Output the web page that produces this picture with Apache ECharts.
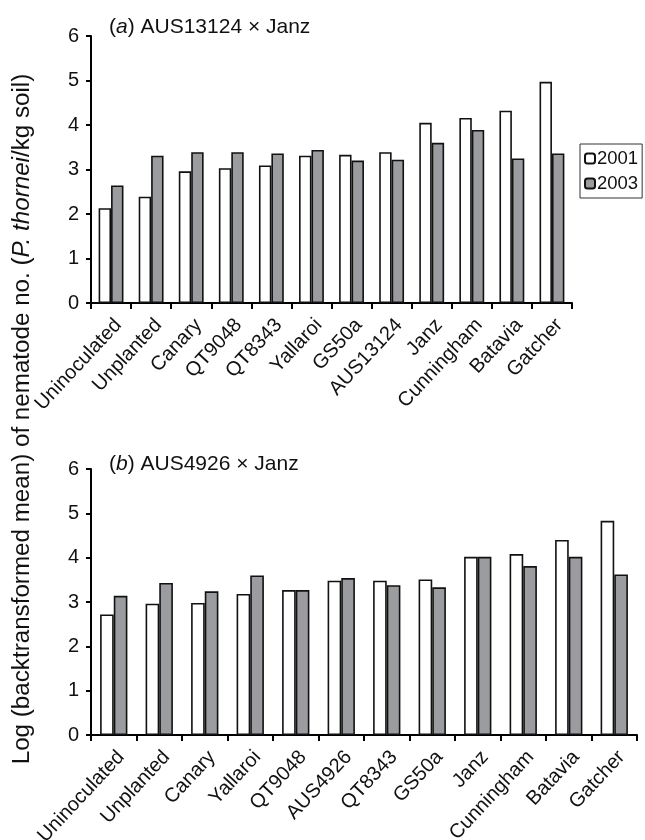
<!DOCTYPE html>
<html>
<head>
<meta charset="utf-8">
<script src="https://cdn.jsdelivr.net/npm/echarts@6/dist/echarts.min.js"></script>
<style>html,body{margin:0;padding:0;background:#fff}#c{width:645px;height:840px}</style>
</head>
<body>
<div id="c"></div>
<script>
const catsA = ['Uninoculated','Unplanted','Canary','QT9048','QT8343','Yallaroi','GS50a','AUS13124','Janz','Cunningham','Batavia','Gatcher'];
const a2001 = [2.13,2.39,2.96,3.03,3.09,3.31,3.33,3.39,4.05,4.16,4.32,4.97];
const a2003 = [2.64,3.31,3.39,3.39,3.36,3.44,3.20,3.22,3.60,3.89,3.25,3.36];
const catsB = ['Uninoculated','Unplanted','Canary','Yallaroi','QT9048','AUS4926','QT8343','GS50a','Janz','Cunningham','Batavia','Gatcher'];
const b2001 = [2.72,2.96,2.98,3.18,3.27,3.48,3.48,3.51,4.02,4.08,4.40,4.83];
const b2003 = [3.14,3.43,3.24,3.60,3.27,3.54,3.38,3.33,4.02,3.81,4.02,3.62];
const yTicks = [0,1,2,3,4,5,6];

const FONT = 'Liberation Sans, Arial, sans-serif';
const GRAY = '#9b9c9f';
const chart = echarts.init(document.getElementById('c'), null, {renderer:'canvas'});

function xAxis(idx, cats){
  return {type:'category', gridIndex:idx, data:cats,
    axisLine:{lineStyle:{color:'#000', width:2}},
    axisTick:{show:true, alignWithLabel:false, length:6, lineStyle:{color:'#000', width:2}},
    axisLabel:{rotate:47, interval:0, color:'#111', fontFamily:FONT, fontSize:20, margin:12, verticalAlign:'top'}};
}
function yAxis(idx){
  return {type:'value', gridIndex:idx, min:yTicks[0], max:yTicks[yTicks.length-1], interval:1,
    splitLine:{show:false},
    axisLine:{show:true, lineStyle:{color:'#000', width:2}},
    axisTick:{show:true, length:5, lineStyle:{color:'#000', width:2}},
    axisLabel:{color:'#111', fontFamily:FONT, fontSize:20, margin:12}};
}
function bar(name, x, data, fill, gap){
  return {name:name, type:'bar', xAxisIndex:x, yAxisIndex:x, data:data,
    barGap:'0%', barCategoryGap:gap, animation:false,
    itemStyle:{color:fill, borderColor:'#111', borderWidth:1.6}};
}
const titleRich = {
  i:{fontFamily:FONT,fontSize:21,fontWeight:'normal',color:'#111'},
  it:{fontFamily:FONT,fontSize:21,fontWeight:'normal',fontStyle:'italic',color:'#111'}
};

chart.setOption({
  backgroundColor:'#fff',
  animation:false,
  title:[
    {text:'{i|(}{it|a}{i|) AUS13124 × Janz}', left:104, top:12, textStyle:{fontWeight:'normal', rich:titleRich}},
    {text:'{i|(}{it|b}{i|) AUS4926 × Janz}', left:104, top:449, textStyle:{fontWeight:'normal', rich:titleRich}}
  ],
  legend:{data:[{name:'2001'},{name:'2003'}], orient:'vertical', left:580, top:144,
    padding:[5,4,5,4], itemGap:6, itemWidth:10, itemHeight:10,
    borderColor:'#333', borderWidth:1,
    textStyle:{fontFamily:FONT, fontSize:18.5, color:'#111', padding:[0,0,0,-3]}},
  grid:[
    {left:91, top:36, width:481, height:267, outerBoundsMode:'none', containLabel:false},
    {left:91, top:469, width:546, height:266, outerBoundsMode:'none', containLabel:false}
  ],
  xAxis:[xAxis(0,catsA), xAxis(1,catsB)],
  yAxis:[yAxis(0), yAxis(1)],
  series:[
    bar('2001',0,a2001,'#fff','38%'),
    bar('2003',0,a2003,GRAY,'38%'),
    bar('2001',1,b2001,'#fff','40%'),
    bar('2003',1,b2003,GRAY,'40%')
  ],
  graphic:[{
    type:'text', x:22, y:419, rotation:Math.PI/2,
    style:{text:'{n|Log (backtransformed mean) of nematode no. (}{it|P. thornei}{n|/kg soil)}',
      align:'center', verticalAlign:'middle',
      rich:{n:{fontFamily:FONT,fontSize:24.2,fill:'#111'},it:{fontFamily:FONT,fontSize:24.2,fontStyle:'italic',fill:'#111'}}}
  }]
});
</script>
</body>
</html>
